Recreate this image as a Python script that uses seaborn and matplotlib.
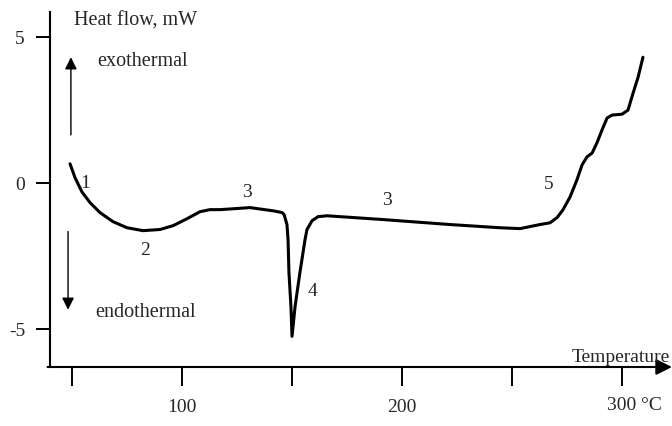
import matplotlib
matplotlib.use("Agg")
import matplotlib.pyplot as plt
import seaborn as sns

# ----------------------------
# 1. DSC curve
# ----------------------------
temperature = [49.1, 51.4, 54.5, 58.2, 62.7, 68.6, 75.0, 82.3, 90.0, 95.9,
               102.3, 108.2, 112.7, 117.3, 123.2, 130.9, 141.4, 145.5, 146.4,
               147.7, 148.2, 148.6, 149.5, 150.0, 151.4, 153.6, 155.9, 156.8,
               159.1, 161.8, 165.9, 171.8, 191.4, 221.8, 244.5, 253.6, 262.7,
               267.3, 270.5, 273.2, 276.4, 279.5, 281.8, 284.1, 286.4, 288.6,
               290.9, 293.2, 295.5, 300.0, 302.7, 305.0, 307.3, 309.5]
heat_flow = [0.65, 0.17, -0.31, -0.68, -1.02, -1.33, -1.54, -1.64, -1.60, -1.47,
             -1.23, -0.99, -0.92, -0.92, -0.89, -0.85, -0.96, -1.02, -1.09,
             -1.43, -1.95, -3.07, -4.23, -5.26, -4.23, -3.07, -1.95, -1.60,
             -1.30, -1.16, -1.13, -1.16, -1.26, -1.43, -1.54, -1.57, -1.43,
             -1.37, -1.19, -0.92, -0.48, 0.10, 0.61, 0.89, 1.02, 1.37,
             1.81, 2.22, 2.32, 2.35, 2.49, 3.07, 3.62, 4.30]

# region labels 1..5 on the curve
region_labels = ["1", "2", "3", "3", "4", "5"]
region_t = [55.9, 83.2, 129.5, 193.2, 159.5, 266.8]
region_y = [0.0, -2.29, -0.31, -0.58, -3.69, -0.03]

x_ticks = [50, 100, 150, 200, 250, 300]
x_tick_labels = ["", "100", "", "200", "", ""]
y_ticks = [5, 0, -5]
y_tick_labels = ["5", "0", "-5"]

# ----------------------------
# 2. Plot
# ----------------------------
sns.set_style("ticks")
plt.rcParams["font.family"] = ["Liberation Serif", "DejaVu Serif"]

fig = plt.figure(figsize=(6.72, 4.27), dpi=100)
ax = fig.add_axes([50 / 672, 59 / 427, 622 / 672, 355 / 427])

sns.lineplot(x=temperature, y=heat_flow, sort=False, estimator=None,
             color="black", lw=2.2, ax=ax)
ax.lines[0].set_solid_joinstyle("round")
ax.lines[0].set_solid_capstyle("round")

ax.set_xlim(40, 322.7)
ax.set_ylim(-6.31, 5.85)

ax.set_xticks(x_ticks)
ax.set_xticklabels(x_tick_labels, fontsize=14)
ax.set_yticks(y_ticks)
ax.set_yticklabels(y_tick_labels, fontsize=14)
ax.tick_params(axis="x", direction="out", length=14, width=1.4, pad=8, color="black")
ax.tick_params(axis="y", direction="out", length=10, width=1.4, pad=8, color="black")

for side in ["top", "right", "bottom"]:
    ax.spines[side].set_visible(False)
ax.spines["left"].set_linewidth(1.5)
ax.spines["left"].set_color("black")

# x axis with arrow head
ax.annotate("", xy=(1.0, 0.0), xytext=(-0.004, 0.0), xycoords="axes fraction",
            arrowprops=dict(arrowstyle="-|>", lw=1.5, color="black",
                            mutation_scale=24, shrinkA=0, shrinkB=0),
            annotation_clip=False)

ax.text(293.2, -7.3, "300 °C", fontsize=14, ha="left", va="top")

# axis titles
ax.text(50.9, 5.56, "Heat flow, mW", fontsize=14.5, ha="left", va="center")
ax.text(321.8, -5.94, "Temperature", fontsize=14, ha="right", va="center")

# exo / endo arrows
ax.annotate("", xy=(49.5, 4.3), xytext=(49.5, 1.64),
            arrowprops=dict(arrowstyle="-|>", lw=1.0, color="black",
                            mutation_scale=18, shrinkA=0, shrinkB=0))
ax.annotate("", xy=(48.2, -4.35), xytext=(48.2, -1.67),
            arrowprops=dict(arrowstyle="-|>", lw=1.0, color="black",
                            mutation_scale=18, shrinkA=0, shrinkB=0))
ax.text(61.4, 4.2, "exothermal", fontsize=14.5, ha="left", va="center")
ax.text(60.5, -4.4, "endothermal", fontsize=14.5, ha="left", va="center")

for lab, t, y in zip(region_labels, region_t, region_y):
    ax.text(t, y, lab, fontsize=14, ha="center", va="center")

fig.savefig("out.png", dpi=100)
